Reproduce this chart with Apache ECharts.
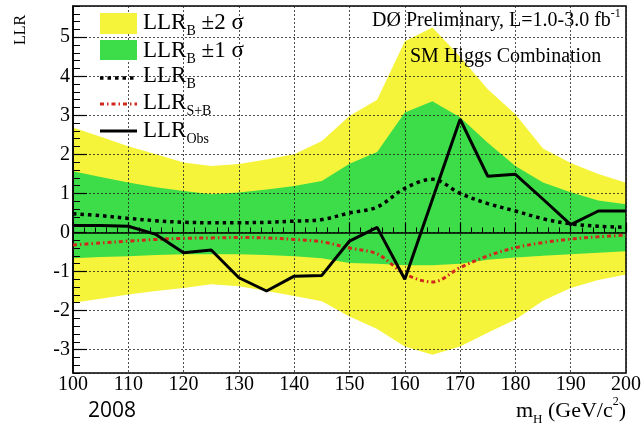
<!DOCTYPE html>
<html>
<head>
<meta charset="utf-8">
<script src="https://cdn.jsdelivr.net/npm/echarts@6/dist/echarts.min.js"></script>
<style>
html,body{margin:0;padding:0;background:#fff;}
#chart{width:644px;height:424px;}
</style>
</head>
<body>
<div id="chart"></div>
<script>
// ---- data ----
const massPoints = [100,105,110,115,120,125,130,135,140,145,150,155,160,165,170,175,180,185,190,195,200];
const llrObs     = [0.18,0.18,0.16,-0.05,-0.52,-0.45,-1.16,-1.5,-1.12,-1.1,-0.22,0.13,-1.2,0.85,2.9,1.44,1.49,0.85,0.2,0.55,0.55];
const llrB       = [0.48,0.43,0.36,0.3,0.26,0.25,0.25,0.26,0.29,0.33,0.5,0.65,1.13,1.36,1.0,0.74,0.55,0.35,0.22,0.16,0.13];
const llrSB      = [-0.32,-0.27,-0.22,-0.18,-0.15,-0.14,-0.13,-0.14,-0.18,-0.24,-0.4,-0.55,-1.06,-1.27,-0.9,-0.6,-0.39,-0.26,-0.17,-0.11,-0.07];
const oneSigmaUp = [1.57,1.42,1.28,1.16,1.06,0.98,1.02,1.1,1.19,1.32,1.76,2.06,3.07,3.36,2.95,2.3,1.7,1.28,1.03,0.82,0.72];
const oneSigmaDn = [-0.66,-0.63,-0.61,-0.58,-0.56,-0.56,-0.56,-0.58,-0.61,-0.66,-0.78,-0.8,-0.84,-0.84,-0.8,-0.7,-0.64,-0.6,-0.56,-0.52,-0.48];
const twoSigmaUp = [2.69,2.45,2.21,2.0,1.79,1.7,1.75,1.87,2.0,2.34,2.98,3.4,4.9,5.25,4.5,3.67,3.03,2.15,1.78,1.5,1.27];
const twoSigmaDn = [-1.8,-1.7,-1.59,-1.5,-1.42,-1.33,-1.38,-1.5,-1.63,-1.76,-2.15,-2.47,-2.92,-3.13,-2.92,-2.57,-2.23,-1.75,-1.42,-1.22,-1.08];
const xTicks = {min:100, max:200, step:10};
const yRange = {min:-3.6, max:5.8};

// ---- styles ----
const SERIF = '"Liberation Serif", "DejaVu Serif", serif';
const YELLOW = '#f6f43a';
const GREEN = '#3ddd4a';
const RED = '#d0281c';

function pairs(ys){ return massPoints.map((m,i)=>[m, ys[i]]); }

function bandSeries(up, dn, color){
  return {
    type:'custom', coordinateSystem:'cartesian2d', xAxisIndex:0, yAxisIndex:0, z:1, silent:true, clip:true,
    data:[[massPoints[0], up[0]]],
    renderItem:function(params, api){
      const top = massPoints.map((m,i)=>api.coord([m, up[i]]));
      const bot = massPoints.map((m,i)=>api.coord([m, dn[i]])).reverse();
      return {type:'polygon', shape:{points: top.concat(bot)}, style:{fill:color, stroke:null}};
    }
  };
}

// text runs with sub/superscripts: parts = [[text, fontSize, dy]]
const measureCtx = document.createElement('canvas').getContext('2d');
function textWidth(t, size){ measureCtx.font = size + 'px ' + SERIF; return measureCtx.measureText(t).width; }
function textRun(x, yc, parts, alignRight){
  let total = 0;
  parts.forEach(p=>{ total += textWidth(p[0], p[1]); });
  let cx = alignRight ? x - total : x;
  const els = [];
  parts.forEach(p=>{
    els.push({type:'text', x:cx, y:yc + p[2], z:5, silent:true,
      style:{text:p[0], fontFamily:SERIF, fontSize:p[1], fill:'#000', align:'left', verticalAlign:'middle'}});
    cx += textWidth(p[0], p[1]);
  });
  return els;
}

const LEG = 23, LEGSUB = 14, SUBDY = 8.5;
const legendX = 100, legendW = 37, legendTextX = 143;
const rowY = [22.5, 50.5, 76, 103, 131];

const graphics = [
  {type:'rect', shape:{x:legendX, y:13, width:legendW, height:21}, style:{fill:YELLOW}, z:5},
  {type:'rect', shape:{x:legendX, y:40, width:legendW, height:20}, style:{fill:GREEN}, z:5},
  {type:'line', shape:{x1:legendX, y1:rowY[2]+2, x2:legendX+legendW, y2:rowY[2]+2}, style:{stroke:'#000', lineWidth:3.5, lineDash:[3.5,4]}, z:5},
  {type:'line', shape:{x1:legendX, y1:rowY[3]+1, x2:legendX+legendW, y2:rowY[3]+1}, style:{stroke:RED, lineWidth:3, lineDash:[4,3,1.5,3]}, z:5},
  {type:'line', shape:{x1:legendX, y1:rowY[4], x2:legendX+legendW, y2:rowY[4]}, style:{stroke:'#000', lineWidth:3}, z:5},
  {type:'text', x:410, y:57, z:5, style:{text:'SM Higgs Combination', fontFamily:SERIF, fontSize:20, fill:'#000', verticalAlign:'middle'}},
  {type:'text', x:88, y:401, z:5, style:{text:'2008', fontFamily:'"Open Sans", Lato, sans-serif', fontSize:21, fill:'#000', verticalAlign:'top'}}
].concat(
  textRun(legendTextX, rowY[0], [['LLR',LEG,0],['B',LEGSUB,SUBDY],[' \u00b12 \u03c3',LEG,0]]),
  textRun(legendTextX, rowY[1], [['LLR',LEG,0],['B',LEGSUB,SUBDY],[' \u00b11 \u03c3',LEG,0]]),
  textRun(legendTextX, rowY[2], [['LLR',LEG,0],['B',LEGSUB,SUBDY]]),
  textRun(legendTextX, rowY[3], [['LLR',LEG,0],['S+B',LEGSUB,SUBDY]]),
  textRun(legendTextX, rowY[4], [['LLR',LEG,0],['Obs',LEGSUB,SUBDY]]),
  textRun(372, 21, [['D\u00d8 Preliminary, L=1.0-3.0 fb',20,0],['-1',12,-7]]),
  textRun(626, 411, [['m',22,0],['H',13,9],[' (GeV/c',22,0],['2',12,-9],[')',22,0]], true)
);

const chart = echarts.init(document.getElementById('chart'), null, {renderer:'canvas'});
chart.setOption({
  animation:false,
  backgroundColor:'#fff',
  grid:{left:73, right:17, top:6, bottom:51, show:true, borderColor:'#000', borderWidth:1.5, backgroundColor:'transparent', z:2},
  xAxis:{
    type:'value', min:xTicks.min, max:xTicks.max, interval:xTicks.step, z:2,
    axisLine:{show:true, lineStyle:{color:'#000', width:1.5}},
    axisTick:{show:true, inside:true, length:10, lineStyle:{color:'#000', width:1.2}},
    minorTick:{show:true, splitNumber:5, length:5, lineStyle:{color:'#000', width:1}},
    axisLabel:{color:'#000', fontFamily:SERIF, fontSize:20, margin:2},
    splitLine:{show:true, lineStyle:{color:'#222', width:1, type:[2,2], opacity:0.8}}
  },
  yAxis:[{
    type:'value', min:yRange.min, max:yRange.max, minInterval:1, maxInterval:1, splitNumber:9, z:2,
    axisLine:{show:true, lineStyle:{color:'#000', width:1.5}},
    axisTick:{show:true, inside:true, length:14, lineStyle:{color:'#000', width:1.2}},
    axisLabel:{color:'#000', fontFamily:SERIF, fontSize:20, margin:3, showMinLabel:false, showMaxLabel:false},
    splitLine:{show:true, lineStyle:{color:'#222', width:1, type:[2,2], opacity:0.8}}
  },{
    type:'value', min:yRange.min, max:yRange.max, interval:0.2, position:'left', z:2,
    axisLine:{show:false}, axisLabel:{show:false}, splitLine:{show:false},
    axisTick:{show:true, inside:true, length:7, lineStyle:{color:'#000', width:1}}
  },{
    type:'value', min:yRange.min, max:yRange.max, position:'left', offset:52, z:2,
    axisLine:{show:false}, axisLabel:{show:false}, splitLine:{show:false}, axisTick:{show:false},
    name:'LLR', nameLocation:'end', nameRotate:90, nameGap:-24,
    nameTextStyle:{fontFamily:SERIF, fontSize:16, color:'#000', align:'center', verticalAlign:'middle'}
  }],
  series:[
    bandSeries(twoSigmaUp, twoSigmaDn, YELLOW),
    bandSeries(oneSigmaUp, oneSigmaDn, GREEN),
    {type:'line', name:'LLR_B', data:pairs(llrB), smooth:0.35, symbol:'none', z:3,
     lineStyle:{color:'#000', width:3.5, type:[3.5,4]}},
    {type:'line', name:'LLR_S+B', data:pairs(llrSB), smooth:0.35, symbol:'none', z:3,
     lineStyle:{color:RED, width:3, type:[4,3,1.5,3]}},
    {type:'line', name:'LLR_Obs', data:pairs(llrObs), symbol:'none', z:4,
     lineStyle:{color:'#000', width:3}}
  ],
  graphic:graphics
});
</script>
</body>
</html>
